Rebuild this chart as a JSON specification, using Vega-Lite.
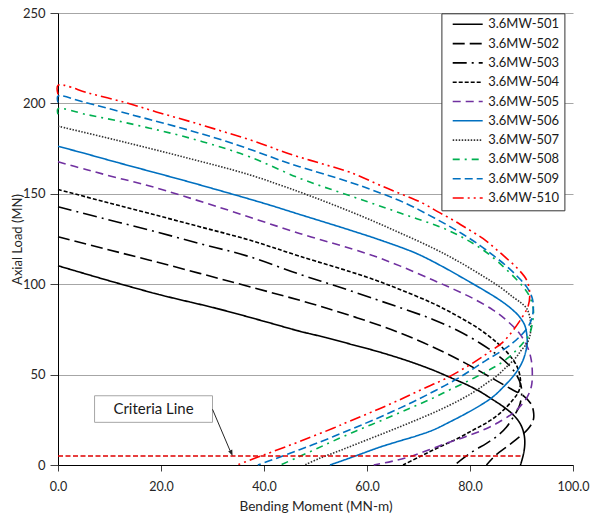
{
  "$schema": "https://vega.github.io/schema/vega-lite/v6.json",
  "width": 515,
  "height": 452,
  "autosize": {"type": "none"},
  "padding": {"left": 58, "top": 13, "right": 17, "bottom": 55},
  "background": "white",
  "config": {
    "font": "Lato",
    "view": {"stroke": null},
    "legend": {
      "symbolType": "M-1,0H9",
      "symbolSize": 36,
      "symbolStrokeWidth": 1.6,
      "symbolOffset": 3.3,
      "labelOffset": 26,
      "labelFontSize": 13,
      "labelFont": "Lato",
      "labelColor": "#1a1a1a",
      "rowPadding": 5.3,
      "padding": 4.5,
      "strokeColor": "#333333",
      "fillColor": "white"
    }
  },
  "datasets": {
    "curves": [
      {"s":"3.6MW-501","k":0,"m":0,"p":110.2},{"s":"3.6MW-501","k":1,"m":5,"p":106},{"s":"3.6MW-501","k":2,"m":11.3,"p":100.8},{"s":"3.6MW-501","k":3,"m":20,"p":94},{"s":"3.6MW-501","k":4,"m":30.8,"p":86.6},{"s":"3.6MW-501","k":5,"m":40,"p":79.5},{"s":"3.6MW-501","k":6,"m":46.9,"p":74},{"s":"3.6MW-501","k":7,"m":52,"p":70.5},{"s":"3.6MW-501","k":8,"m":56.6,"p":67},{"s":"3.6MW-501","k":9,"m":62.4,"p":62.5},{"s":"3.6MW-501","k":10,"m":68,"p":57.5},{"s":"3.6MW-501","k":11,"m":72.8,"p":52.5},{"s":"3.6MW-501","k":12,"m":76.5,"p":48},{"s":"3.6MW-501","k":13,"m":79.3,"p":44.5},{"s":"3.6MW-501","k":14,"m":82,"p":40.5},{"s":"3.6MW-501","k":15,"m":84.5,"p":36},{"s":"3.6MW-501","k":16,"m":86.6,"p":32},{"s":"3.6MW-501","k":17,"m":88.3,"p":28},{"s":"3.6MW-501","k":18,"m":89.5,"p":24},{"s":"3.6MW-501","k":19,"m":90.2,"p":20},{"s":"3.6MW-501","k":20,"m":90.6,"p":15},{"s":"3.6MW-501","k":21,"m":90.6,"p":10},{"s":"3.6MW-501","k":22,"m":90.3,"p":5},{"s":"3.6MW-501","k":23,"m":89.8,"p":0},

      {"s":"3.6MW-502","k":0,"m":0,"p":126.2},{"s":"3.6MW-502","k":1,"m":8.9,"p":119.7},{"s":"3.6MW-502","k":2,"m":17.8,"p":113.3},{"s":"3.6MW-502","k":3,"m":27.5,"p":106},{"s":"3.6MW-502","k":4,"m":37.2,"p":98.6},{"s":"3.6MW-502","k":5,"m":48.9,"p":89.5},{"s":"3.6MW-502","k":6,"m":58,"p":81.5},{"s":"3.6MW-502","k":7,"m":66,"p":73.5},{"s":"3.6MW-502","k":8,"m":73,"p":65},{"s":"3.6MW-502","k":9,"m":79,"p":56.5},{"s":"3.6MW-502","k":10,"m":84,"p":48.5},{"s":"3.6MW-502","k":11,"m":88,"p":42},{"s":"3.6MW-502","k":12,"m":90.5,"p":38},{"s":"3.6MW-502","k":13,"m":91.8,"p":34},{"s":"3.6MW-502","k":14,"m":92.3,"p":30},{"s":"3.6MW-502","k":15,"m":92.3,"p":25},{"s":"3.6MW-502","k":16,"m":91.3,"p":20},{"s":"3.6MW-502","k":17,"m":89.6,"p":15.5},{"s":"3.6MW-502","k":18,"m":87.1,"p":10},{"s":"3.6MW-502","k":19,"m":85,"p":5.5},{"s":"3.6MW-502","k":20,"m":83.2,"p":0},

      {"s":"3.6MW-503","k":0,"m":0,"p":142.8},{"s":"3.6MW-503","k":1,"m":8.9,"p":136.3},{"s":"3.6MW-503","k":2,"m":17.8,"p":129.9},{"s":"3.6MW-503","k":3,"m":27.5,"p":122.5},{"s":"3.6MW-503","k":4,"m":37.2,"p":115.2},{"s":"3.6MW-503","k":5,"m":46.9,"p":105.5},{"s":"3.6MW-503","k":6,"m":54,"p":99},{"s":"3.6MW-503","k":7,"m":61.8,"p":91.5},{"s":"3.6MW-503","k":8,"m":67.5,"p":86},{"s":"3.6MW-503","k":9,"m":72.8,"p":80.5},{"s":"3.6MW-503","k":10,"m":77.5,"p":74.5},{"s":"3.6MW-503","k":11,"m":81.9,"p":67.5},{"s":"3.6MW-503","k":12,"m":85,"p":61.5},{"s":"3.6MW-503","k":13,"m":87.3,"p":56},{"s":"3.6MW-503","k":14,"m":89,"p":50},{"s":"3.6MW-503","k":15,"m":89.9,"p":44},{"s":"3.6MW-503","k":16,"m":90,"p":38},{"s":"3.6MW-503","k":17,"m":89.5,"p":32},{"s":"3.6MW-503","k":18,"m":88.5,"p":27},{"s":"3.6MW-503","k":19,"m":87.1,"p":21},{"s":"3.6MW-503","k":20,"m":85.3,"p":16},{"s":"3.6MW-503","k":21,"m":83.2,"p":12},{"s":"3.6MW-503","k":22,"m":80,"p":6.5},{"s":"3.6MW-503","k":23,"m":77,"p":0},

      {"s":"3.6MW-504","k":0,"m":0,"p":152.4},{"s":"3.6MW-504","k":1,"m":8.9,"p":145.7},{"s":"3.6MW-504","k":2,"m":17.8,"p":139.1},{"s":"3.6MW-504","k":3,"m":27.5,"p":131.8},{"s":"3.6MW-504","k":4,"m":37.2,"p":124.4},{"s":"3.6MW-504","k":5,"m":46.9,"p":115.5},{"s":"3.6MW-504","k":6,"m":59.9,"p":104},{"s":"3.6MW-504","k":7,"m":66,"p":97.5},{"s":"3.6MW-504","k":8,"m":72.8,"p":89.4},{"s":"3.6MW-504","k":9,"m":77.5,"p":82.5},{"s":"3.6MW-504","k":10,"m":81.9,"p":75},{"s":"3.6MW-504","k":11,"m":85.3,"p":67.5},{"s":"3.6MW-504","k":12,"m":87.6,"p":61},{"s":"3.6MW-504","k":13,"m":89.2,"p":54},{"s":"3.6MW-504","k":14,"m":89.8,"p":47},{"s":"3.6MW-504","k":15,"m":89.5,"p":41},{"s":"3.6MW-504","k":16,"m":88.3,"p":35.9},{"s":"3.6MW-504","k":17,"m":85.8,"p":28.6},{"s":"3.6MW-504","k":18,"m":83.3,"p":23.5},{"s":"3.6MW-504","k":19,"m":80.6,"p":19.3},{"s":"3.6MW-504","k":20,"m":77.5,"p":14.5},{"s":"3.6MW-504","k":21,"m":74.1,"p":10},{"s":"3.6MW-504","k":22,"m":70.5,"p":5},{"s":"3.6MW-504","k":23,"m":67,"p":0},

      {"s":"3.6MW-505","k":0,"m":0,"p":167.7},{"s":"3.6MW-505","k":1,"m":5.6,"p":163.3},{"s":"3.6MW-505","k":2,"m":11.3,"p":159},{"s":"3.6MW-505","k":3,"m":17.8,"p":154.3},{"s":"3.6MW-505","k":4,"m":30.8,"p":143},{"s":"3.6MW-505","k":5,"m":46.9,"p":128.1},{"s":"3.6MW-505","k":6,"m":59.9,"p":117},{"s":"3.6MW-505","k":7,"m":66.5,"p":110},{"s":"3.6MW-505","k":8,"m":72.8,"p":102.3},{"s":"3.6MW-505","k":9,"m":77,"p":97},{"s":"3.6MW-505","k":10,"m":80.6,"p":92.1},{"s":"3.6MW-505","k":11,"m":84.5,"p":85.7},{"s":"3.6MW-505","k":12,"m":87.3,"p":79.5},{"s":"3.6MW-505","k":13,"m":89.6,"p":72.8},{"s":"3.6MW-505","k":14,"m":91.2,"p":65},{"s":"3.6MW-505","k":15,"m":91.9,"p":58},{"s":"3.6MW-505","k":16,"m":92.1,"p":50},{"s":"3.6MW-505","k":17,"m":91.9,"p":43.3},{"s":"3.6MW-505","k":18,"m":91,"p":37},{"s":"3.6MW-505","k":19,"m":89.6,"p":32},{"s":"3.6MW-505","k":20,"m":88.3,"p":28.6},{"s":"3.6MW-505","k":21,"m":85.5,"p":23.5},{"s":"3.6MW-505","k":22,"m":82.5,"p":19.3},{"s":"3.6MW-505","k":23,"m":79,"p":15.5},{"s":"3.6MW-505","k":24,"m":75.4,"p":12},{"s":"3.6MW-505","k":25,"m":71.8,"p":8.2},{"s":"3.6MW-505","k":26,"m":68.3,"p":4.6},{"s":"3.6MW-505","k":27,"m":64.8,"p":2},{"s":"3.6MW-505","k":28,"m":61.3,"p":0},

      {"s":"3.6MW-506","k":0,"m":0,"p":176.3},{"s":"3.6MW-506","k":1,"m":5.6,"p":172},{"s":"3.6MW-506","k":2,"m":11.3,"p":167.5},{"s":"3.6MW-506","k":3,"m":17.8,"p":162.5},{"s":"3.6MW-506","k":4,"m":24.3,"p":157.5},{"s":"3.6MW-506","k":5,"m":30.8,"p":152.3},{"s":"3.6MW-506","k":6,"m":40.5,"p":144.3},{"s":"3.6MW-506","k":7,"m":46.9,"p":138.6},{"s":"3.6MW-506","k":8,"m":56.6,"p":130},{"s":"3.6MW-506","k":9,"m":63,"p":124},{"s":"3.6MW-506","k":10,"m":69.6,"p":117},{"s":"3.6MW-506","k":11,"m":74.5,"p":110},{"s":"3.6MW-506","k":12,"m":79.3,"p":102.3},{"s":"3.6MW-506","k":13,"m":82.8,"p":96.5},{"s":"3.6MW-506","k":14,"m":85.8,"p":91.2},{"s":"3.6MW-506","k":15,"m":88,"p":86.5},{"s":"3.6MW-506","k":16,"m":89.6,"p":82},{"s":"3.6MW-506","k":17,"m":90.6,"p":77.5},{"s":"3.6MW-506","k":18,"m":91,"p":72.8},{"s":"3.6MW-506","k":19,"m":91.1,"p":67.3},{"s":"3.6MW-506","k":20,"m":90.8,"p":62.5},{"s":"3.6MW-506","k":21,"m":90.3,"p":58},{"s":"3.6MW-506","k":22,"m":89.5,"p":53.5},{"s":"3.6MW-506","k":23,"m":88.3,"p":48.8},{"s":"3.6MW-506","k":24,"m":86.6,"p":43.5},{"s":"3.6MW-506","k":25,"m":84.5,"p":37.8},{"s":"3.6MW-506","k":26,"m":82,"p":33},{"s":"3.6MW-506","k":27,"m":79.3,"p":28.6},{"s":"3.6MW-506","k":28,"m":76.2,"p":24},{"s":"3.6MW-506","k":29,"m":72.8,"p":19.3},{"s":"3.6MW-506","k":30,"m":69.5,"p":16},{"s":"3.6MW-506","k":31,"m":66,"p":13},{"s":"3.6MW-506","k":32,"m":62.4,"p":9.8},{"s":"3.6MW-506","k":33,"m":59.5,"p":6.8},{"s":"3.6MW-506","k":34,"m":56,"p":3.2},{"s":"3.6MW-506","k":35,"m":52.8,"p":0},

      {"s":"3.6MW-507","k":0,"m":0,"p":187.4},{"s":"3.6MW-507","k":1,"m":11.3,"p":179.7},{"s":"3.6MW-507","k":2,"m":24.3,"p":170.4},{"s":"3.6MW-507","k":3,"m":37.2,"p":160.5},{"s":"3.6MW-507","k":4,"m":46.9,"p":151},{"s":"3.6MW-507","k":5,"m":53.4,"p":144},{"s":"3.6MW-507","k":6,"m":59.9,"p":136.5},{"s":"3.6MW-507","k":7,"m":66.3,"p":128.5},{"s":"3.6MW-507","k":8,"m":72.8,"p":120},{"s":"3.6MW-507","k":9,"m":77.8,"p":112.5},{"s":"3.6MW-507","k":10,"m":82.5,"p":104.5},{"s":"3.6MW-507","k":11,"m":85.8,"p":98.5},{"s":"3.6MW-507","k":12,"m":88.3,"p":93},{"s":"3.6MW-507","k":13,"m":90,"p":89.5},{"s":"3.6MW-507","k":14,"m":91,"p":86.6},{"s":"3.6MW-507","k":15,"m":91.6,"p":82},{"s":"3.6MW-507","k":16,"m":91.8,"p":76},{"s":"3.6MW-507","k":17,"m":91.6,"p":71},{"s":"3.6MW-507","k":18,"m":91,"p":67},{"s":"3.6MW-507","k":19,"m":90,"p":63.6},{"s":"3.6MW-507","k":20,"m":88.8,"p":59},{"s":"3.6MW-507","k":21,"m":87.1,"p":54.3},{"s":"3.6MW-507","k":22,"m":85.3,"p":49.5},{"s":"3.6MW-507","k":23,"m":83.2,"p":45.2},{"s":"3.6MW-507","k":24,"m":80.8,"p":40.5},{"s":"3.6MW-507","k":25,"m":78,"p":35.9},{"s":"3.6MW-507","k":26,"m":74,"p":30.3},{"s":"3.6MW-507","k":27,"m":69.6,"p":24.9},{"s":"3.6MW-507","k":28,"m":64.8,"p":19.3},{"s":"3.6MW-507","k":29,"m":59.9,"p":13.8},{"s":"3.6MW-507","k":30,"m":55.2,"p":8.5},{"s":"3.6MW-507","k":31,"m":50.8,"p":3.7},{"s":"3.6MW-507","k":32,"m":47.9,"p":0},

      {"s":"3.6MW-508","k":0,"m":0,"p":194},{"s":"3.6MW-508","k":1,"m":0,"p":197},{"s":"3.6MW-508","k":2,"m":5.6,"p":193.8},{"s":"3.6MW-508","k":3,"m":11.3,"p":190.5},{"s":"3.6MW-508","k":4,"m":17.8,"p":186.3},{"s":"3.6MW-508","k":5,"m":24.3,"p":181.8},{"s":"3.6MW-508","k":6,"m":30.8,"p":176.5},{"s":"3.6MW-508","k":7,"m":37.2,"p":170.5},{"s":"3.6MW-508","k":8,"m":47,"p":158.5},{"s":"3.6MW-508","k":9,"m":56.6,"p":149},{"s":"3.6MW-508","k":10,"m":66.3,"p":139.5},{"s":"3.6MW-508","k":11,"m":76,"p":129.5},{"s":"3.6MW-508","k":12,"m":82.5,"p":119},{"s":"3.6MW-508","k":13,"m":87.1,"p":108},{"s":"3.6MW-508","k":14,"m":90.3,"p":98.6},{"s":"3.6MW-508","k":15,"m":91.6,"p":93},{"s":"3.6MW-508","k":16,"m":92.3,"p":86},{"s":"3.6MW-508","k":17,"m":92.2,"p":80},{"s":"3.6MW-508","k":18,"m":91.5,"p":72},{"s":"3.6MW-508","k":19,"m":90.3,"p":67.5},{"s":"3.6MW-508","k":20,"m":89,"p":63.5},{"s":"3.6MW-508","k":21,"m":87.5,"p":59.5},{"s":"3.6MW-508","k":22,"m":85.8,"p":56},{"s":"3.6MW-508","k":23,"m":82.7,"p":51},{"s":"3.6MW-508","k":24,"m":79.3,"p":46},{"s":"3.6MW-508","k":25,"m":76,"p":41.5},{"s":"3.6MW-508","k":26,"m":72.8,"p":37},{"s":"3.6MW-508","k":27,"m":68,"p":31},{"s":"3.6MW-508","k":28,"m":63.1,"p":25},{"s":"3.6MW-508","k":29,"m":58,"p":19},{"s":"3.6MW-508","k":30,"m":53.4,"p":13.2},{"s":"3.6MW-508","k":31,"m":50.2,"p":9},{"s":"3.6MW-508","k":32,"m":46.5,"p":4.2},{"s":"3.6MW-508","k":33,"m":43.2,"p":0},

      {"s":"3.6MW-509","k":0,"m":0,"p":200.5},{"s":"3.6MW-509","k":1,"m":0,"p":204},{"s":"3.6MW-509","k":2,"m":4.9,"p":200.8},{"s":"3.6MW-509","k":3,"m":14.6,"p":193.5},{"s":"3.6MW-509","k":4,"m":24.3,"p":186.1},{"s":"3.6MW-509","k":5,"m":34,"p":177.8},{"s":"3.6MW-509","k":6,"m":43.7,"p":168},{"s":"3.6MW-509","k":7,"m":46.9,"p":165},{"s":"3.6MW-509","k":8,"m":56.6,"p":156.5},{"s":"3.6MW-509","k":9,"m":63,"p":150},{"s":"3.6MW-509","k":10,"m":67.7,"p":144.5},{"s":"3.6MW-509","k":11,"m":71.5,"p":139},{"s":"3.6MW-509","k":12,"m":75.4,"p":133},{"s":"3.6MW-509","k":13,"m":78.7,"p":127.5},{"s":"3.6MW-509","k":14,"m":81.9,"p":121.5},{"s":"3.6MW-509","k":15,"m":84.7,"p":115.5},{"s":"3.6MW-509","k":16,"m":87.1,"p":110},{"s":"3.6MW-509","k":17,"m":89.3,"p":104},{"s":"3.6MW-509","k":18,"m":91,"p":98.5},{"s":"3.6MW-509","k":19,"m":92,"p":93},{"s":"3.6MW-509","k":20,"m":92.3,"p":88},{"s":"3.6MW-509","k":21,"m":92.1,"p":82},{"s":"3.6MW-509","k":22,"m":91.3,"p":76.5},{"s":"3.6MW-509","k":23,"m":90,"p":72},{"s":"3.6MW-509","k":24,"m":88.3,"p":67.5},{"s":"3.6MW-509","k":25,"m":85.8,"p":62.5},{"s":"3.6MW-509","k":26,"m":83.2,"p":58},{"s":"3.6MW-509","k":27,"m":80.6,"p":53.2},{"s":"3.6MW-509","k":28,"m":78,"p":48.5},{"s":"3.6MW-509","k":29,"m":73.5,"p":41.5},{"s":"3.6MW-509","k":30,"m":69,"p":35},{"s":"3.6MW-509","k":31,"m":64.5,"p":29},{"s":"3.6MW-509","k":32,"m":59.9,"p":23.3},{"s":"3.6MW-509","k":33,"m":55,"p":17.5},{"s":"3.6MW-509","k":34,"m":50.2,"p":12},{"s":"3.6MW-509","k":35,"m":46.9,"p":8.5},{"s":"3.6MW-509","k":36,"m":42.5,"p":3.8},{"s":"3.6MW-509","k":37,"m":38.8,"p":0},

      {"s":"3.6MW-510","k":0,"m":0,"p":205},{"s":"3.6MW-510","k":1,"m":0,"p":210},{"s":"3.6MW-510","k":2,"m":6.2,"p":205.5},{"s":"3.6MW-510","k":3,"m":13.3,"p":200.3},{"s":"3.6MW-510","k":4,"m":19.1,"p":195.3},{"s":"3.6MW-510","k":5,"m":25.6,"p":190},{"s":"3.6MW-510","k":6,"m":32,"p":184.5},{"s":"3.6MW-510","k":7,"m":38.5,"p":178.7},{"s":"3.6MW-510","k":8,"m":45,"p":172},{"s":"3.6MW-510","k":9,"m":50.8,"p":167},{"s":"3.6MW-510","k":10,"m":56.6,"p":162},{"s":"3.6MW-510","k":11,"m":63.1,"p":154},{"s":"3.6MW-510","k":12,"m":67,"p":149.5},{"s":"3.6MW-510","k":13,"m":70.9,"p":144.7},{"s":"3.6MW-510","k":14,"m":73.8,"p":140},{"s":"3.6MW-510","k":15,"m":76.7,"p":135.5},{"s":"3.6MW-510","k":16,"m":79.6,"p":130.5},{"s":"3.6MW-510","k":17,"m":82.5,"p":125.3},{"s":"3.6MW-510","k":18,"m":84.8,"p":120},{"s":"3.6MW-510","k":19,"m":87.1,"p":114.3},{"s":"3.6MW-510","k":20,"m":89.3,"p":108.5},{"s":"3.6MW-510","k":21,"m":91,"p":102.3},{"s":"3.6MW-510","k":22,"m":91.6,"p":95},{"s":"3.6MW-510","k":23,"m":91.3,"p":88},{"s":"3.6MW-510","k":24,"m":90.3,"p":82.5},{"s":"3.6MW-510","k":25,"m":88.5,"p":75},{"s":"3.6MW-510","k":26,"m":86.4,"p":68},{"s":"3.6MW-510","k":27,"m":83.5,"p":62},{"s":"3.6MW-510","k":28,"m":80.6,"p":56.5},{"s":"3.6MW-510","k":29,"m":75.4,"p":48},{"s":"3.6MW-510","k":30,"m":70.8,"p":42},{"s":"3.6MW-510","k":31,"m":66.3,"p":36},{"s":"3.6MW-510","k":32,"m":61.5,"p":30},{"s":"3.6MW-510","k":33,"m":56.6,"p":24.2},{"s":"3.6MW-510","k":34,"m":53.4,"p":20.3},{"s":"3.6MW-510","k":35,"m":46.9,"p":13},{"s":"3.6MW-510","k":36,"m":41.7,"p":7.4},{"s":"3.6MW-510","k":37,"m":38.2,"p":3.7},{"s":"3.6MW-510","k":38,"m":34.8,"p":0}
    ],
    "criteria": [{"m": 0, "m2": 90, "p": 5}],
    "note": [{"m": 7.1, "m2": 30, "p": 23.6, "p2": 38.3, "tm": 18.55, "tp": 31, "label": "Criteria Line"}],
    "pointer": [{"m": 30, "p": 30.8, "m2": 33.4, "p2": 8.0, "tipM": 33.9, "tipP": 5.0}]
  },
  "encoding": {
    "x": {
      "field": "m",
      "type": "quantitative",
      "scale": {"domain": [0, 100], "nice": false, "zero": false},
      "axis": {
        "values": [0, 20, 40, 60, 80, 100],
        "format": ".1f",
        "grid": false,
        "labelFlush": false,
        "domainColor": "#000000",
        "tickColor": "#404040",
        "tickSize": 6,
        "labelPadding": 9,
        "labelFontSize": 12.5,
        "labelColor": "#262626",
        "title": "Bending Moment (MN-m)",
        "titleFontSize": 13.6,
        "titleFontWeight": "normal",
        "titleColor": "#262626",
        "titleY": 41.7,
        "titleBaseline": "middle"
      }
    },
    "y": {
      "field": "p",
      "type": "quantitative",
      "scale": {"domain": [0, 250], "nice": false},
      "axis": {
        "values": [0, 50, 100, 150, 200, 250],
        "grid": true,
        "labelFlush": false,
        "gridColor": "#a6a6a6",
        "domainColor": "#000000",
        "tickColor": "#404040",
        "tickSize": 8,
        "labelPadding": 5,
        "labelFontSize": 13,
        "labelColor": "#262626",
        "title": "Axial Load (MN)",
        "titleFontSize": 13,
        "titleFontWeight": "normal",
        "titleColor": "#262626",
        "titleAngle": 270,
        "titleX": -40.3,
        "titleY": 226,
        "titleBaseline": "middle"
      }
    }
  },
  "layer": [
    {
      "data": {"name": "curves"},
      "mark": {"type": "line", "strokeWidth": 1.6, "interpolate": "catmull-rom"},
      "encoding": {
        "order": {"field": "k", "type": "quantitative"},
        "color": {
          "field": "s",
          "type": "nominal",
          "scale": {
            "domain": ["3.6MW-501","3.6MW-502","3.6MW-503","3.6MW-504","3.6MW-505","3.6MW-506","3.6MW-507","3.6MW-508","3.6MW-509","3.6MW-510"],
            "range": ["#000000","#000000","#000000","#000000","#7030a0","#0070c0","#333333","#00b050","#0070c0","#ff0000"]
          },
          "legend": {
            "title": null,
            "orient": "none",
            "legendX": 383.4,
            "legendY": 0.3,
            "labelExpr": "datum.label + '     '"
          }
        },
        "strokeDash": {
          "field": "s",
          "type": "nominal",
          "scale": {
            "domain": ["3.6MW-501","3.6MW-502","3.6MW-503","3.6MW-504","3.6MW-505","3.6MW-506","3.6MW-507","3.6MW-508","3.6MW-509","3.6MW-510"],
            "range": [[1,0],[12,5],[14,5,2,5],[4,2],[8,5],[1,0],[1.5,1.5],[7,5,2,5],[8,4],[11,4,2,4,2,4]]
          },
          "legend": {
            "title": null,
            "orient": "none",
            "legendX": 383.4,
            "legendY": 0.3,
            "labelExpr": "datum.label + '     '"
          }
        }
      }
    },
    {
      "data": {"name": "criteria"},
      "mark": {"type": "rule", "color": "#e00000", "strokeWidth": 1.6, "strokeDash": [5, 2.5]},
      "encoding": {"x2": {"field": "m2"}}
    },
    {
      "data": {"name": "note"},
      "mark": {"type": "rect", "fill": "white", "stroke": "#a6a6a6", "strokeWidth": 1},
      "encoding": {"x2": {"field": "m2"}, "y2": {"field": "p2"}}
    },
    {
      "data": {"name": "note"},
      "mark": {"type": "text", "font": "Lato", "fontSize": 15, "color": "#1a1a1a", "align": "center", "baseline": "middle"},
      "encoding": {
        "x": {"field": "tm", "type": "quantitative"},
        "y": {"field": "tp", "type": "quantitative"},
        "text": {"field": "label"}
      }
    },
    {
      "data": {"name": "pointer"},
      "mark": {"type": "rule", "color": "#262626", "strokeWidth": 1},
      "encoding": {"x2": {"field": "m2"}, "y2": {"field": "p2"}}
    },
    {
      "data": {"name": "pointer"},
      "mark": {"type": "point", "shape": "M0,0L-0.55,-1.5L0.55,-1.5Z", "size": 64, "filled": true, "color": "#262626", "opacity": 1, "angle": -23},
      "encoding": {
        "x": {"field": "tipM", "type": "quantitative"},
        "y": {"field": "tipP", "type": "quantitative"}
      }
    }
  ]
}
